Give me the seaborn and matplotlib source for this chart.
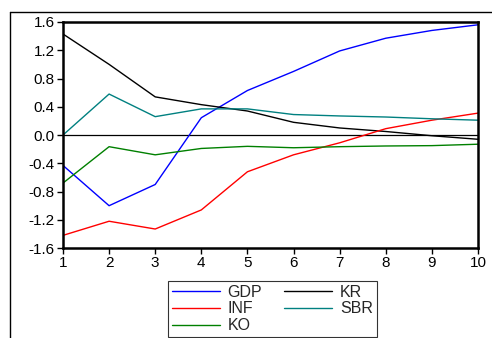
import matplotlib
matplotlib.use("Agg")
import matplotlib.pyplot as plt
import seaborn as sns
import pandas as pd
from matplotlib.lines import Line2D

periods = list(range(1, 11))
gdp = [-0.43, -1.00, -0.70, 0.245, 0.63, 0.90, 1.19, 1.37, 1.48, 1.56]
inf = [-1.42, -1.22, -1.33, -1.06, -0.52, -0.28, -0.11, 0.09, 0.21, 0.31]
ko = [-0.68, -0.165, -0.28, -0.19, -0.16, -0.18, -0.165, -0.155, -0.15, -0.13]
kr = [1.43, 1.00, 0.54, 0.43, 0.34, 0.18, 0.10, 0.05, -0.01, -0.06]
sbr = [0.00, 0.58, 0.26, 0.37, 0.37, 0.29, 0.27, 0.255, 0.23, 0.21]

series = {"GDP": gdp, "KR": kr, "INF": inf, "SBR": sbr, "KO": ko}
colors = {"GDP": "#0000ff", "KR": "#000000", "INF": "#ff0000",
          "SBR": "#008080", "KO": "#008000"}

rows = []
for name, vals in series.items():
    for p, v in zip(periods, vals):
        rows.append({"period": p, "value": v, "series": name})
df = pd.DataFrame(rows)

sns.set_style("white")
plt.rcParams['font.family'] = ['Liberation Sans', 'DejaVu Sans']

fig = plt.figure(figsize=(4.92, 3.38), dpi=100)
ax = fig.add_axes([0.128, 0.266, 0.8435, 0.669])

sns.lineplot(data=df, x="period", y="value", hue="series", palette=colors,
             hue_order=list(series.keys()), linewidth=1.0, ax=ax, legend=False)
ax.axhline(0, color="black", linewidth=0.9, zorder=0)

yticks = [-1.6, -1.2, -0.8, -0.4, 0.0, 0.4, 0.8, 1.2, 1.6]
ax.set_xlim(1, 10)
ax.set_ylim(-1.6, 1.6)
ax.set_xticks(periods)
ax.set_yticks(yticks)
ax.set_yticklabels([f"{v:.1f}" for v in yticks])
ax.set_xlabel("")
ax.set_ylabel("")
ax.tick_params(axis="both", direction="out", length=4, width=1, labelsize=11,
               left=True, bottom=True, colors="black", pad=2)
for s in ax.spines.values():
    s.set_linewidth(1.8)
    s.set_color("black")

# outer frame lines
fig.add_artist(Line2D([10 / 492, 1], [1 - 12 / 338, 1 - 12 / 338], color="black", linewidth=1.0))
fig.add_artist(Line2D([10 / 492, 10 / 492], [0, 1 - 12 / 338], color="black", linewidth=1.0))

handles = [Line2D([], [], color=colors[n], linewidth=1.0) for n in ["GDP", "INF", "KO", "KR", "SBR"]]
labels = ["GDP", "INF", "KO", "KR", "SBR"]
leg = fig.legend(handles, labels, ncol=2, loc="upper left",
                 bbox_to_anchor=(0.341, 0.17, 0.425, 0.0), mode="expand",
                 frameon=True, fancybox=False, fontsize=11.5, handlelength=3.0,
                 borderpad=0.25, labelspacing=0.12, columnspacing=1.2, handletextpad=0.5,
                 borderaxespad=0.0)
leg.get_frame().set_edgecolor("black")
leg.get_frame().set_linewidth(0.8)

fig.savefig("out.png", dpi=100)
